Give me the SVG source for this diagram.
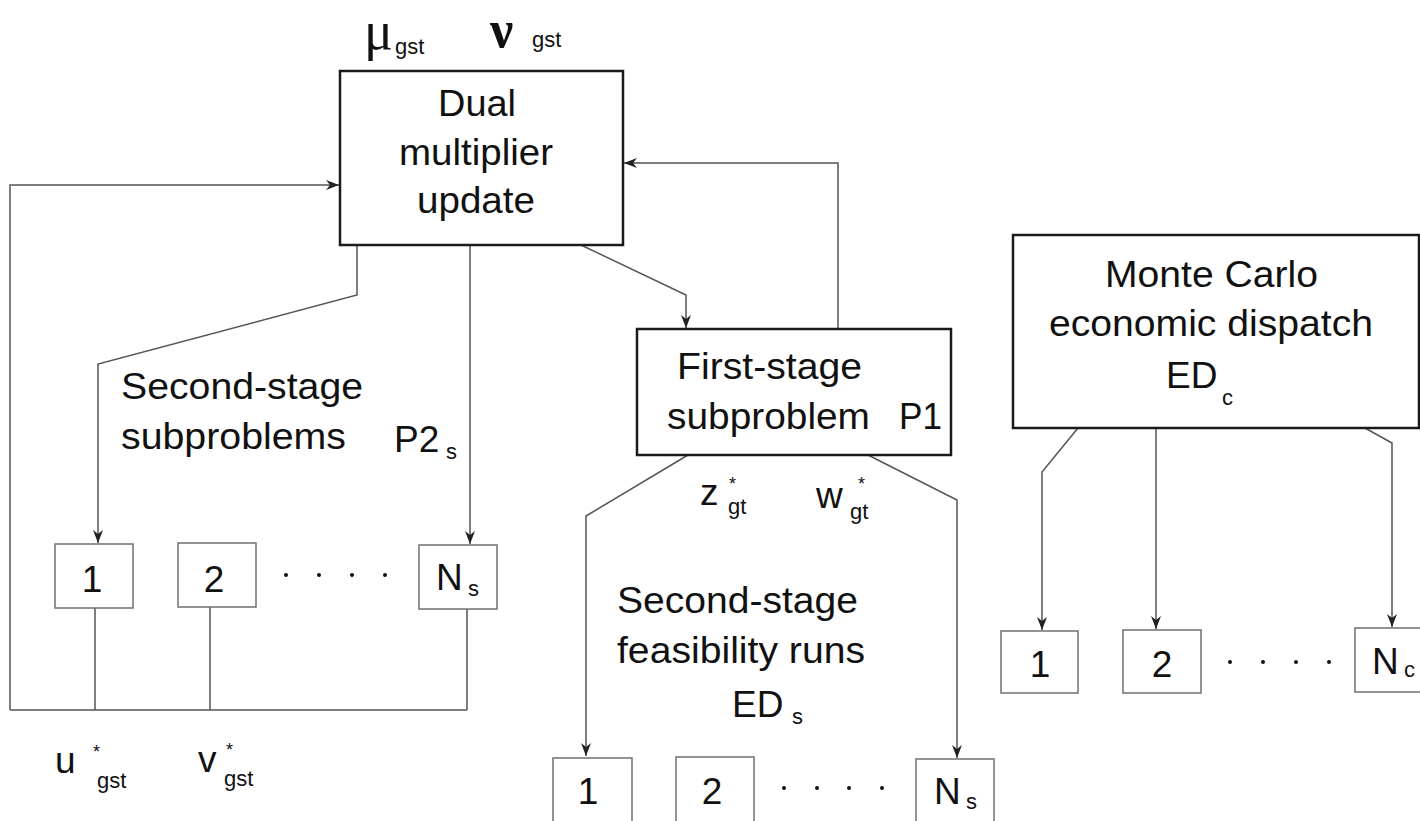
<svg xmlns="http://www.w3.org/2000/svg" width="1420" height="821" viewBox="0 0 1420 821">
<style>
.big{fill:#fff;stroke:#1a1a1a;stroke-width:2.5}
.small{fill:#fff;stroke:#707070;stroke-width:1.5}
.t{font-family:"Liberation Sans",Arial,sans-serif;font-size:37px;fill:#111}
.sub{font-family:"Liberation Sans",Arial,sans-serif;font-size:22px;fill:#111}
.star{font-family:"Liberation Sans",Arial,sans-serif;font-size:18px;fill:#111}
.greek{font-family:"Liberation Serif","Times New Roman",serif;fill:#111}
.c{text-anchor:middle}
.ln{fill:none;stroke:#555;stroke-width:1.5}
.arr{fill:none;stroke:#555;stroke-width:1.5;marker-end:url(#ah)}
.dot{fill:#111}
</style>
<defs>
<marker id="ah" markerUnits="userSpaceOnUse" markerWidth="14" markerHeight="12" refX="13" refY="5" orient="auto">
<path d="M0,0 L13,5 L0,10 L4,5 z" fill="#222"/>
</marker>
</defs>
<rect width="1420" height="821" fill="#fff"/>

<g id="connectors">
<path class="arr" d="M10,710 L10,185 L339,185"/>
<path class="ln" d="M10,710 L467,710"/>
<path class="ln" d="M95,608 L95,710"/>
<path class="ln" d="M210,607 L210,710"/>
<path class="ln" d="M467,609 L467,710"/>
<path class="arr" d="M357,245 L357,295 L98,364 L98,543"/>
<path class="arr" d="M470,245 L470,544"/>
<path class="arr" d="M581,245 L686,295 L686,328"/>
<path class="arr" d="M838,329 L838,163 L624,163"/>
<path class="arr" d="M688,455 L586,516 L586,756"/>
<path class="arr" d="M868,455 L957,500 L957,758"/>
<path class="arr" d="M1078,428 L1042,472 L1042,630"/>
<path class="arr" d="M1156,428 L1156,629"/>
<path class="arr" d="M1365,428 L1392,443 L1392,627"/>
</g>

<g id="labels-dual">
<text class="greek" x="364" y="49" font-size="54">μ</text>
<text class="sub" x="395" y="54">gst</text>
<text class="greek" x="490" y="47" font-size="52" font-weight="bold">ν</text>
<text class="sub" x="532" y="47">gst</text>
</g>

<g id="dual">
<rect class="big" x="340" y="71" width="283" height="174"/>
<text class="t c" x="477" y="116" textLength="78" lengthAdjust="spacingAndGlyphs">Dual</text>
<text class="t c" x="476" y="165" textLength="154" lengthAdjust="spacingAndGlyphs">multiplier</text>
<text class="t c" x="476" y="213" textLength="118" lengthAdjust="spacingAndGlyphs">update</text>
</g>

<g id="first-stage">
<rect class="big" x="637" y="329" width="314" height="126"/>
<text class="t" x="677" y="379" textLength="185" lengthAdjust="spacingAndGlyphs">First-stage</text>
<text class="t" x="667" y="429" textLength="203" lengthAdjust="spacingAndGlyphs">subproblem</text>
<text class="t" x="899" y="429" textLength="43" lengthAdjust="spacingAndGlyphs">P1</text>
</g>

<g id="label-second-stage-subproblems">
<text class="t" x="121" y="399" textLength="242" lengthAdjust="spacingAndGlyphs">Second-stage</text>
<text class="t" x="121" y="449" textLength="225" lengthAdjust="spacingAndGlyphs">subproblems</text>
<text class="t" x="394" y="452">P2</text>
<text class="sub" x="446" y="459">s</text>
</g>

<g id="sub1">
<rect class="small" x="55" y="544" width="78" height="64"/>
<text class="t c" x="92" y="592">1</text>
</g>
<g id="sub2">
<rect class="small" x="178" y="543" width="78" height="64"/>
<text class="t c" x="214" y="592">2</text>
</g>
<g id="dots-left">
<circle class="dot" cx="286" cy="575" r="2"/>
<circle class="dot" cx="319" cy="575" r="2"/>
<circle class="dot" cx="352" cy="575" r="2"/>
<circle class="dot" cx="385" cy="575" r="2"/>
</g>
<g id="subNs">
<rect class="small" x="419" y="545" width="78" height="64"/>
<text class="t" x="436" y="590">N</text>
<text class="sub" x="468" y="596">s</text>
</g>

<g id="labels-uv">
<text class="t" x="55" y="773">u</text>
<text class="star" x="93" y="758">*</text>
<text class="sub" x="97" y="788">gst</text>
<text class="t" x="198" y="772">v</text>
<text class="star" x="226" y="756">*</text>
<text class="sub" x="224" y="786">gst</text>
</g>

<g id="labels-zw">
<text class="t" x="700" y="505">z</text>
<text class="star" x="729" y="490">*</text>
<text class="sub" x="728" y="514">gt</text>
<text class="t" x="816" y="508">w</text>
<text class="star" x="858" y="490">*</text>
<text class="sub" x="850" y="519">gt</text>
</g>

<g id="label-feasibility">
<text class="t" x="617" y="613" textLength="241" lengthAdjust="spacingAndGlyphs">Second-stage</text>
<text class="t" x="617" y="663" textLength="248" lengthAdjust="spacingAndGlyphs">feasibility runs</text>
<text class="t" x="732" y="717">ED</text>
<text class="sub" x="792" y="724">s</text>
</g>

<g id="feas1">
<rect class="small" x="553" y="758" width="79" height="70"/>
<text class="t c" x="588" y="804">1</text>
</g>
<g id="feas2">
<rect class="small" x="676" y="757" width="78" height="70"/>
<text class="t c" x="712" y="804">2</text>
</g>
<g id="dots-mid">
<circle class="dot" cx="784" cy="788" r="2"/>
<circle class="dot" cx="817" cy="788" r="2"/>
<circle class="dot" cx="849" cy="788" r="2"/>
<circle class="dot" cx="882" cy="788" r="2"/>
</g>
<g id="feasNs">
<rect class="small" x="916" y="759" width="78" height="70"/>
<text class="t" x="934" y="804">N</text>
<text class="sub" x="966" y="809">s</text>
</g>

<g id="monte-carlo">
<rect class="big" x="1013" y="235" width="406" height="193"/>
<text class="t" x="1105" y="287" textLength="213" lengthAdjust="spacingAndGlyphs">Monte Carlo</text>
<text class="t" x="1049" y="336" textLength="324" lengthAdjust="spacingAndGlyphs">economic dispatch</text>
<text class="t" x="1166" y="388">ED</text>
<text class="sub" x="1222" y="405">c</text>
</g>

<g id="mc1">
<rect class="small" x="1001" y="631" width="77" height="62"/>
<text class="t c" x="1040" y="677">1</text>
</g>
<g id="mc2">
<rect class="small" x="1123" y="630" width="78" height="63"/>
<text class="t c" x="1162" y="677">2</text>
</g>
<g id="dots-right">
<circle class="dot" cx="1230" cy="662" r="2"/>
<circle class="dot" cx="1263" cy="662" r="2"/>
<circle class="dot" cx="1296" cy="662" r="2"/>
<circle class="dot" cx="1329" cy="662" r="2"/>
</g>
<g id="mcNc">
<rect class="small" x="1355" y="628" width="70" height="64"/>
<text class="t" x="1372" y="674">N</text>
<text class="sub" x="1404" y="677">c</text>
</g>
</svg>
